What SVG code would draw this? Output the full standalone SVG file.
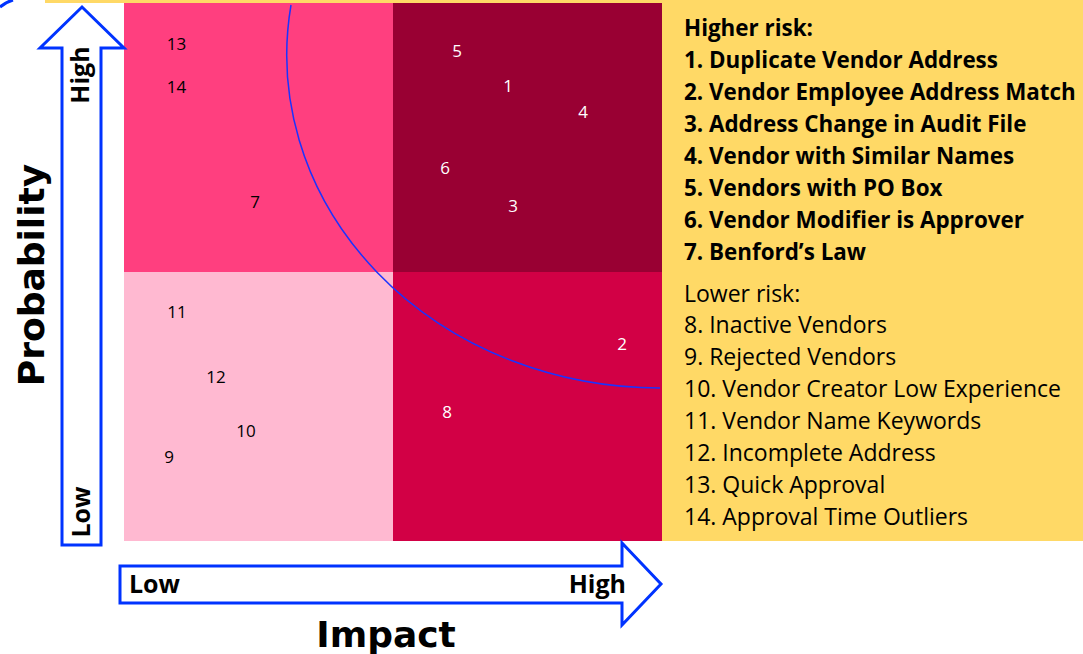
<svg xmlns="http://www.w3.org/2000/svg" width="1083" height="654" viewBox="0 0 1083 654">
  <style>
    .axis { fill: #ffffff; stroke: #0033ff; stroke-width: 3; stroke-linejoin: miter; }
    .axis-tick { font-family: "Open Sans", Lato, sans-serif; font-weight: 700; font-size: 25px; fill: #000; }
    .axis-title { font-family: "DejaVu Sans", sans-serif; font-weight: 700; font-size: 36px; fill: #000; }
    .num { font-family: "Open Sans", Lato, sans-serif; font-size: 17px; text-anchor: middle; dominant-baseline: central; }
    .num-dark { fill: #000; }
    .num-light { fill: #ffffff; }
    .legend { font-family: "Open Sans", Lato, sans-serif; font-size: 23px; fill: #000; }
    .legend-bold { font-weight: 700; font-size: 22.4px; }
  </style>

  <rect width="1083" height="654" fill="#ffffff"/>

  <!-- legend panel background -->
  <rect x="45" y="0" width="617" height="3" fill="#ffd966"/>
  <rect id="legend-panel" x="662" y="0" width="421" height="541" fill="#ffd966"/>

  <!-- risk quadrants -->
  <g id="quadrants">
    <rect id="q-high-prob-low-impact" x="124" y="3" width="269" height="269" fill="#ff3f7f"/>
    <rect id="q-high-prob-high-impact" x="393" y="3" width="269" height="269" fill="#990033"/>
    <rect id="q-low-prob-low-impact" x="124" y="272" width="269" height="269" fill="#ffb9d1"/>
    <rect id="q-low-prob-high-impact" x="393" y="272" width="269" height="269" fill="#d20045"/>
  </g>

  <!-- risk threshold curve -->
  <g id="connectors">
    <path d="M291,5 A373,333 0 0 0 660,388" fill="none" stroke="#1a33ff" stroke-width="1.5"/>
    <path d="M0,7 Q6,2 13,0" fill="none" stroke="#0033ff" stroke-width="3"/>
  </g>

  <!-- probability axis -->
  <g id="axis-probability">
    <path class="axis" d="M62,545 L62,48 L40,48 L82,7 L124,48 L101,48 L101,545 Z"/>
    <text class="axis-tick" transform="translate(79,75) rotate(-90)" text-anchor="middle" dominant-baseline="central">High</text>
    <text class="axis-tick" transform="translate(80,512) rotate(-90)" text-anchor="middle" dominant-baseline="central">Low</text>
    <text class="axis-title" transform="translate(31,275) rotate(-90)" text-anchor="middle" dominant-baseline="central">Probability</text>
  </g>

  <!-- impact axis -->
  <g id="axis-impact">
    <path class="axis" d="M120,566 L622,566 L622,543 L661,584 L622,625 L622,603 L120,603 Z"/>
    <text class="axis-tick" x="129" y="593">Low</text>
    <text class="axis-tick" x="626" y="593" text-anchor="end">High</text>
    <text class="axis-title" x="386" y="647" text-anchor="middle">Impact</text>
  </g>

  <!-- numbered risk points -->
  <g id="points">
    <text class="num num-dark" x="176.5" y="43.5">13</text>
    <text class="num num-dark" x="176.5" y="86.5">14</text>
    <text class="num num-dark" x="255" y="201">7</text>
    <text class="num num-light" x="457" y="50">5</text>
    <text class="num num-light" x="508" y="85">1</text>
    <text class="num num-light" x="583" y="111">4</text>
    <text class="num num-light" x="445" y="167">6</text>
    <text class="num num-light" x="513" y="205">3</text>
    <text class="num num-dark" x="177" y="311">11</text>
    <text class="num num-dark" x="216" y="376.5">12</text>
    <text class="num num-dark" x="246" y="430">10</text>
    <text class="num num-dark" x="169" y="456">9</text>
    <text class="num num-light" x="622" y="343">2</text>
    <text class="num num-light" x="447" y="411">8</text>
  </g>

  <!-- legend -->
  <g id="legend-higher">
    <text class="legend legend-bold" x="684" y="36">Higher risk:</text>
    <text class="legend legend-bold" x="684" y="68">1. Duplicate Vendor Address</text>
    <text class="legend legend-bold" x="684" y="100">2. Vendor Employee Address Match</text>
    <text class="legend legend-bold" x="684" y="132">3. Address Change in Audit File</text>
    <text class="legend legend-bold" x="684" y="164">4. Vendor with Similar Names</text>
    <text class="legend legend-bold" x="684" y="196">5. Vendors with PO Box</text>
    <text class="legend legend-bold" x="684" y="228">6. Vendor Modifier is Approver</text>
    <text class="legend legend-bold" x="684" y="260">7. Benford’s Law</text>
  </g>
  <g id="legend-lower">
    <text class="legend" x="684" y="302">Lower risk:</text>
    <text class="legend" x="684" y="333">8. Inactive Vendors</text>
    <text class="legend" x="684" y="365">9. Rejected Vendors</text>
    <text class="legend" x="684" y="397">10. Vendor Creator Low Experience</text>
    <text class="legend" x="684" y="429">11. Vendor Name Keywords</text>
    <text class="legend" x="684" y="461">12. Incomplete Address</text>
    <text class="legend" x="684" y="493">13. Quick Approval</text>
    <text class="legend" x="684" y="525">14. Approval Time Outliers</text>
  </g>
</svg>
